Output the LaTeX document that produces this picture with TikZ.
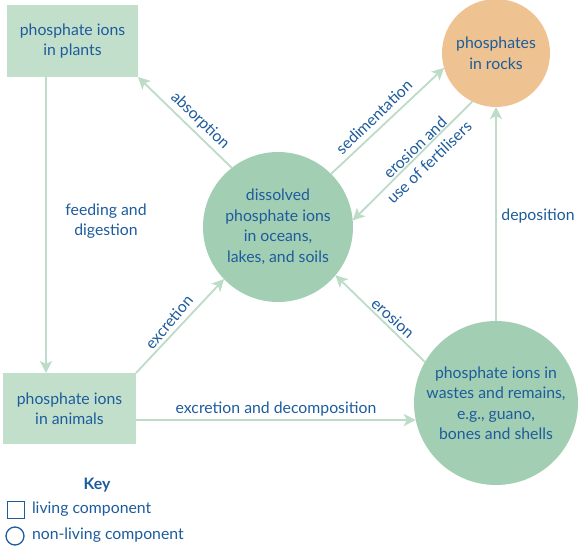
\documentclass[tikz,border=0pt]{standalone}
\usepackage{fontspec}
\setmainfont{Lato}
\usetikzlibrary{arrows.meta}
\definecolor{boxc}{HTML}{C2DFCC}
\definecolor{circc}{HTML}{A2CEB3}
\definecolor{rockc}{HTML}{EEC391}
\definecolor{arrc}{HTML}{BCDCC7}
\definecolor{txtc}{HTML}{1D5C9C}
\begin{document}
\begin{tikzpicture}[x=1pt,y=-1pt,
  every node/.style={text=txtc,font=\fontsize{15.8}{20.5}\selectfont,align=center,inner sep=0pt,outer sep=0pt},
  livebox/.style={fill=boxc,draw=none,rectangle},
  nonlive/.style={circle,draw=none},
  flow/.style={draw=arrc,line width=1.8pt,-{Stealth[length=12pt,width=12pt,inset=3pt]}},
  lbl/.style={}]
\useasboundingbox (0,0) rectangle (581,556);
% nodes
\node[livebox,minimum width=131pt,minimum height=72pt] (plants) at (72.5,41) {phosphate ions\\in plants};
\node[livebox,minimum width=133pt,minimum height=71pt] (animals) at (69.5,408.5) {phosphate ions\\in animals};
\node[nonlive,fill=rockc,minimum size=108pt] (rock) at (496,53) {phosphates\\in rocks};
\node[nonlive,fill=circc,minimum size=150pt] (dis) at (278,227) {dissolved\\phosphate ions\\in oceans,\\lakes, and soils};
\node[nonlive,fill=circc,minimum size=164pt] (waste) at (496,403) {phosphate ions in\\wastes and remains,\\e.g., guano,\\bones and shells};
\coordinate (fx) at (46,0);
\coordinate (ax) at (0,420);
% connectors
\draw[flow] (plants.south -| fx) -- (animals.north -| fx);
\draw[flow] (dis.128) -- (plants.south east);
\draw[flow] (dis.45) -- (rock.196);
\draw[flow] (rock.244) -- (dis.5);
\draw[flow] (animals.north east) -- (dis.224);
\draw[flow] (waste.150) -- (dis.320);
\draw[flow] (waste.north) -- (rock.south);
\draw[flow] (animals.east |- ax) -- (waste.192);
% labels
\node[lbl,rotate=-44] (l1) at (200,121) {absorption};
\node[lbl,rotate=44] (l2) at (374,117) {sedimentation};
\node[lbl,rotate=44] (l3) at (422,155) {erosion and\\use of fertilisers};
\node[lbl] (l4) at (106,221) {feeding and\\digestion};
\node[lbl,rotate=50] (l5) at (169,322) {excretion};
\node[lbl,rotate=-42] (l6) at (393,318) {erosion};
\node[lbl] (l7) at (538,216) {deposition};
\node[lbl] (l8) at (276,409) {excretion and decomposition};
% key
\node[font=\fontsize{15.8}{17}\selectfont\bfseries] (key) at (97,485) {Key};
\node[draw=txtc,line width=1.3pt,minimum size=17pt] (ksq) at (16,510) {};
\node[anchor=west] (kt1) at (32,509) {living component};
\node[draw=txtc,line width=1.3pt,circle,minimum size=18pt] (kci) at (15,536) {};
\node[anchor=west] (kt2) at (32,535) {non-living component};
\end{tikzpicture}
\end{document}
